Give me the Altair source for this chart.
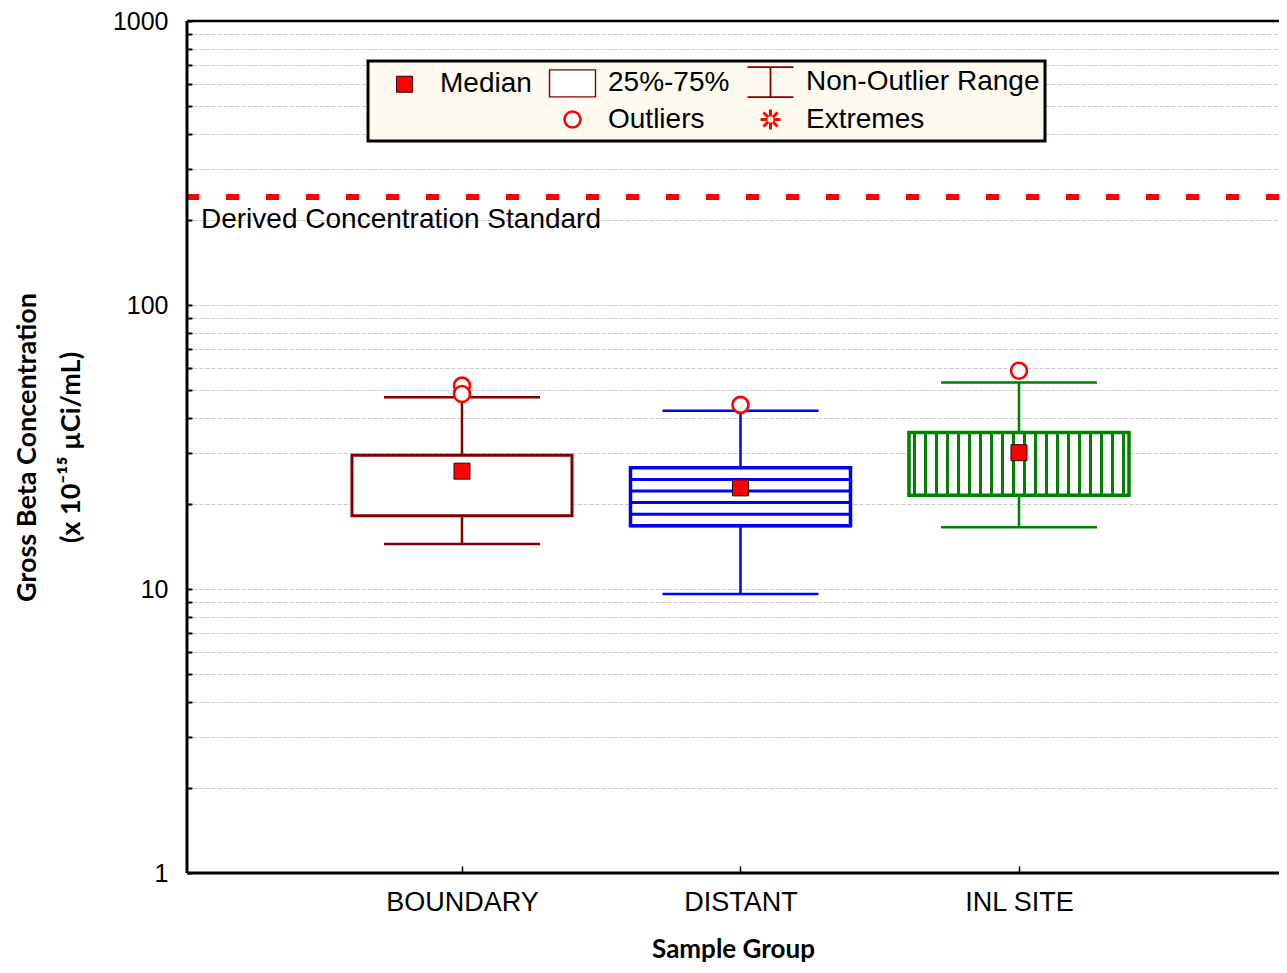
import json
import altair as alt
import numpy as np
import pandas as pd

# ---------------- data ----------------
groups = ["BOUNDARY", "DISTANT", "INL SITE"]
q1 = [18.1, 16.7, 21.4]
q3 = [29.6, 26.7, 35.6]
medians = [26.0, 22.7, 30.2]
whisker_lo = [14.4, 9.6, 16.5]
whisker_hi = [47.3, 42.4, 53.4]
outlier_groups = ["BOUNDARY", "BOUNDARY", "DISTANT", "INL SITE"]
outlier_values = [52.0, 48.6, 44.5, 58.7]
dcs_value = 240
dcs_label = "Derived Concentration Standard"
legend_labels = ["Median", "25%-75%", "Non-Outlier Range", " ", "Outliers", "Extremes"]
y_label_values = [1, 10, 100, 1000]
y_title = ["Gross Beta Concentration", "(x 10\u207b\u00b9\u2075 \u00b5Ci/mL)"]
x_title = "Sample Group"

# ---------------- styles ----------------
group_colors = ["#800000", "#0000ff", "#008000"]
box_stroke = [3, 3.5, 3.5]
BOX_HALF = 0.395
CAP_HALF = 0.28
X_DOMAIN = [0.0126, 3.9336]
Y_DOMAIN = [1, 1000]
LABEL_FONT = "Liberation Sans"
TITLE_FONT = "Lato"
FS = 28

legend_shapes = [
    "M-0.533,-0.533H0.533V0.533H-0.533Z",
    "M-1.533,-0.9H1.533V0.9H-1.533Z",
    "M-1.533,-1H1.533M0,-1V1M-1.533,1H1.533",
    "M0,0",
    "M0.533,0A0.533,0.533,0,1,1,-0.533,0A0.533,0.533,0,1,1,0.533,0Z",
    "M-0.667,0H-0.2M0.2,0H0.667M0,-0.667V-0.2M0,0.2V0.667"
    "M-0.47,-0.47L-0.15,-0.15M0.15,0.15L0.47,0.47M-0.47,0.47L-0.15,0.15M0.15,-0.15L0.47,-0.47",
]
legend_fill = ["#ff0000", "#ffffff", "transparent", "transparent", "#ffffff", "transparent"]
legend_stroke = ["#300000", "#800000", "#800000", "transparent", "#ff0000", "#ff0000"]
legend_sw = [1, 3, 3, 0, 1.3, 1]

# ---------------- tables ----------------
pos = np.arange(1, len(groups) + 1)
box = pd.DataFrame({"group": groups, "pos": pos, "q1": q1, "q3": q3,
                    "lo": whisker_lo, "hi": whisker_hi})
box["left"] = box["pos"] - BOX_HALF
box["right"] = box["pos"] + BOX_HALF
box["cl"] = box["pos"] - CAP_HALF
box["cr"] = box["pos"] + CAP_HALF

caps = pd.concat([
    box[["group", "cl", "cr"]].assign(v=box["lo"]),
    box[["group", "cl", "cr"]].assign(v=box["hi"]),
])

# hatching (horizontal for DISTANT, vertical for INL SITE)
d = box.iloc[1]
hatch_h = pd.DataFrame({"group": d["group"], "left": d["left"], "right": d["right"],
                        "v": np.geomspace(d["q3"], d["q1"], 6)[1:]})
s = box.iloc[2]
nv = 20
xs = s["left"] + (np.arange(nv) + 0.5) * (s["right"] - s["left"]) / nv
hatch_v = pd.DataFrame({"group": s["group"], "x": xs, "q1": s["q1"], "q3": s["q3"]})

pos_of = dict(zip(groups, pos))
points = pd.concat([
    pd.DataFrame({"pos": pos, "v": medians, "kind": "Median"}),
    pd.DataFrame({"pos": [pos_of[g] for g in outlier_groups], "v": outlier_values,
                  "kind": "Outliers"}),
])

dcs = pd.DataFrame({"v": [dcs_value], "x": [X_DOMAIN[0]], "label": [dcs_label]})
frame_bottom = pd.DataFrame({"v": [Y_DOMAIN[0]]})
frame_top = pd.DataFrame({"v": [Y_DOMAIN[1]]})
frame_v = pd.DataFrame({"x": [X_DOMAIN[0]]})

# ---------------- scales / axes ----------------
Y_SCALE = alt.Scale(type="log", domain=Y_DOMAIN, nice=False)
X_SCALE = alt.Scale(domain=X_DOMAIN, nice=False, zero=False)
color_scale = alt.Scale(domain=groups, range=group_colors)

y_ticks = [m * 10 ** e for e in range(3) for m in range(1, 10)] + [1000]
y_axis = alt.Axis(
    values=y_ticks,
    labelExpr="indexof(%s, datum.value) >= 0 ? format(datum.value, 'd') : ''"
              % json.dumps(y_label_values),
    grid=True, gridColor="#c8c8c8", gridDash=[4, 2], gridWidth=1,
    domain=False, tickColor="black", tickWidth=2, tickSize=5, offset=-5,
    labelFont=LABEL_FONT, labelFontSize=25, labelColor="black", labelPadding=19,
    labelOverlap=False,
    title=y_title, titleFont=TITLE_FONT, titleFontSize=27, titleFontWeight="bold",
    titleColor="black", titleLineHeight=44, titlePadding=27,
)
x_axis = alt.Axis(
    values=[int(p) for p in pos],
    labelExpr="%s[datum.value - 1]" % json.dumps(groups),
    grid=False, domain=False, tickColor="black", tickWidth=1.5, tickSize=7, offset=-7,
    labelFont=LABEL_FONT, labelFontSize=27, labelColor="black", labelPadding=16,
    labelOverlap=False, labelFlush=False,
    title=x_title, titleFont=TITLE_FONT, titleFontSize=26, titleFontWeight="bold",
    titleColor="black", titlePadding=21,
)


def X(field):
    return alt.X(field, type="quantitative", scale=X_SCALE, axis=x_axis)


def Y(field):
    return alt.Y(field, type="quantitative", scale=Y_SCALE, axis=y_axis)


col = alt.Color("group:N", scale=color_scale, legend=None)

frame_b = alt.Chart(frame_bottom).mark_rule(color="black", strokeWidth=3).encode(y=Y("v"))
frame_t = alt.Chart(frame_top).mark_rule(color="black", strokeWidth=2.5).encode(y=Y("v"))
frame_l = alt.Chart(frame_v).mark_rule(color="black", strokeWidth=3).encode(x=X("x"))

whiskers = alt.Chart(box).mark_rule(strokeWidth=2.5).encode(
    x=X("pos"), y=Y("lo"), y2="hi", color=col)

box_layers = []
for g, bw in zip(groups, box_stroke):
    box_layers.append(
        alt.Chart(box[box["group"] == g]).mark_rect(filled=False, fill="white", strokeWidth=bw)
        .encode(x=X("left"), x2="right", y=Y("q1"), y2="q3", color=col))

hh = alt.Chart(hatch_h).mark_rule(strokeWidth=3).encode(
    x=X("left"), x2="right", y=Y("v"), color=col)
hv = alt.Chart(hatch_v).mark_rule(strokeWidth=3).encode(
    x=X("x"), y=Y("q1"), y2="q3", color=col)
cap_layer = alt.Chart(caps).mark_rule(strokeWidth=2.5).encode(
    x=X("cl"), x2="cr", y=Y("v"), color=col)

dcs_rule = alt.Chart(dcs).mark_rule(color="#ff0000", strokeWidth=6, strokeDash=[13, 27]).encode(
    y=Y("v"))
dcs_text = alt.Chart(dcs).mark_text(
    align="left", baseline="middle", dx=14, dy=23, font=LABEL_FONT, fontSize=FS, color="black"
).encode(x=X("x"), y=Y("v"), text="label:N")

leg = alt.Legend(
    title=None, orient="none", legendX=181, legendY=40, columns=3, direction="horizontal",
    symbolSize=900, symbolOffset=15, labelFont=LABEL_FONT, labelFontSize=FS, labelColor="black",
    labelOffset=19, labelLimit=500, columnPadding=9, rowPadding=2, padding=5,
    fillColor="#fffaf0", strokeColor="black",
)
pts = alt.Chart(points).mark_point(filled=True, opacity=1, size=900).encode(
    x=X("pos"), y=Y("v"),
    shape=alt.Shape("kind:N", scale=alt.Scale(domain=legend_labels, range=legend_shapes), legend=leg),
    fill=alt.Fill("kind:N", scale=alt.Scale(domain=legend_labels, range=legend_fill), legend=leg),
    stroke=alt.Stroke("kind:N", scale=alt.Scale(domain=legend_labels, range=legend_stroke), legend=leg),
    strokeWidth=alt.StrokeWidth("kind:N", scale=alt.Scale(domain=legend_labels, range=legend_sw), legend=leg),
)

chart = alt.layer(
    whiskers, *box_layers, hh, hv, cap_layer, dcs_rule, dcs_text, pts, frame_b, frame_t, frame_l
).properties(
    width=1092, height=852,
    padding={"left": 179, "top": 13, "right": 0, "bottom": 92},
    autosize=alt.AutoSizeParams(type="none"),
    background="white",
).configure_view(stroke=None).configure_legend(strokeWidth=3)

chart.save("out.html", embed_options={"renderer": "svg", "actions": False})
